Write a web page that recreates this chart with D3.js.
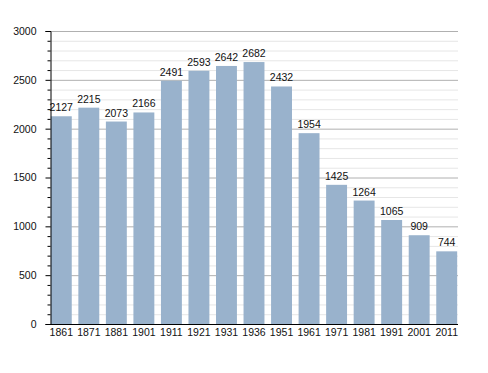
<!DOCTYPE html>
<html><head><meta charset="utf-8">
<script src="https://cdn.jsdelivr.net/npm/d3@7"></script>
<style>body{margin:0;background:#fff}svg{display:block}text{font-family:"Liberation Sans",Arial,sans-serif}</style>
</head><body><svg id="c" width="488" height="373"></svg>
<script>
const years = ["1861","1871","1881","1901","1911","1921","1931","1936","1951","1961","1971","1981","1991","2001","2011"];
const population = [2127,2215,2073,2166,2491,2593,2642,2682,2432,1954,1425,1264,1065,909,744];
const yMajorTicks = [0,500,1000,1500,2000,2500,3000];

(function(){
const svg = d3.select("#c");
const mLeft = 50, mRight = 458, mTop = 31, mBottom = 324;
const fs = 10.5;
const x = d3.scaleBand().domain(years).range([mLeft, mRight]).paddingInner(0.24).paddingOuter(0.03);
const y = d3.scaleLinear().domain([0,3000]).range([mBottom, mTop]);
const minor = d3.range(0, 3001, 100).filter(v => v % 500 !== 0);

svg.append("g").selectAll("line").data(minor).join("line")
  .attr("x1", mLeft).attr("x2", mRight).attr("y1", d=>y(d)+0.5).attr("y2", d=>y(d)+0.5)
  .attr("stroke", "#e6e6e6").attr("stroke-width", 1);
svg.append("g").selectAll("line").data(yMajorTicks.filter(d=>d>0)).join("line")
  .attr("x1", mLeft).attr("x2", mRight).attr("y1", d=>y(d)+0.5).attr("y2", d=>y(d)+0.5)
  .attr("stroke", "#b0b0b0").attr("stroke-width", 1);

svg.append("g").selectAll("rect").data(population).join("rect")
  .attr("x", (d,i)=>x(years[i])).attr("width", x.bandwidth())
  .attr("y", d=>y(d)).attr("height", d=>mBottom - y(d))
  .attr("fill", "#99b2cc");

svg.append("g").selectAll("text").data(population).join("text")
  .attr("x", (d,i)=>x(years[i]) + x.bandwidth()/2).attr("y", d=>y(d)-5)
  .attr("text-anchor","middle").attr("font-size", fs).attr("fill","#111").text(d=>d);

const ya = svg.append("g").attr("transform", `translate(${mLeft+0.5},0)`)
  .call(d3.axisLeft(y).tickValues(yMajorTicks).tickSize(5).tickPadding(9).tickFormat(d3.format("d")));
ya.select(".domain").attr("stroke","#000");
ya.selectAll("text").attr("font-size", fs).attr("fill","#111").style("font-family","'Liberation Sans',Arial,sans-serif");
svg.append("g").attr("transform", `translate(${mLeft+0.5},0)`)
  .call(d3.axisLeft(y).tickValues(minor).tickSize(3).tickFormat(""))
  .select(".domain").remove();

const xa = svg.append("g").attr("transform", `translate(0,${mBottom+0.5})`)
  .call(d3.axisBottom(x).tickSize(0).tickPadding(4));
xa.select(".domain").attr("stroke","#000").attr("d", `M${mLeft},0H${mRight}`);
xa.selectAll("text").attr("font-size", fs).attr("fill","#111").style("font-family","'Liberation Sans',Arial,sans-serif");
})();
</script></body></html>
